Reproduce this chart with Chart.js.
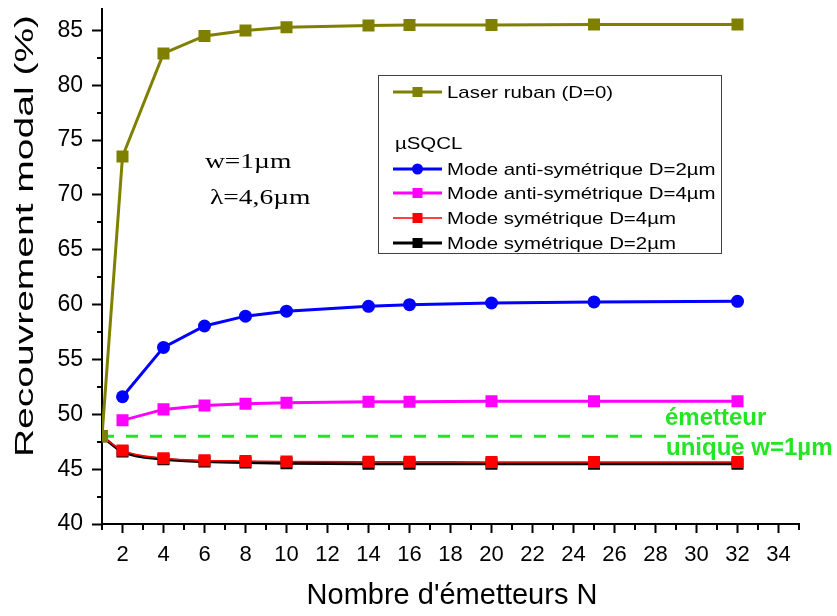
<!DOCTYPE html>
<html>
<head>
<meta charset="utf-8">
<script src="https://cdn.jsdelivr.net/npm/chart.js@4.4.0/dist/chart.umd.min.js"></script>
<style>
    html, body { margin: 0; padding: 0; background: #fff; }
    #wrap { width: 837px; height: 616px; }
</style>
</head>
<body>
<div id="wrap"><canvas id="chart" width="837" height="616"></canvas></div>
<script>
// Valeurs
const emitterCounts = [1, 2, 4, 6, 8, 10, 14, 16, 20, 25, 32];
const laserRuban = [48, 73.5, 82.9, 84.5, 85.0, 85.3, 85.45, 85.5, 85.5, 85.55, 85.55];
const antiSymD2 = [null, 51.6, 56.1, 58.05, 58.95, 59.4, 59.85, 60.0, 60.15, 60.25, 60.3];
const antiSymD4 = [null, 49.45, 50.45, 50.8, 50.97, 51.06, 51.15, 51.15, 51.2, 51.2, 51.2];
const symD4 = [48, 46.7, 46.0, 45.8, 45.75, 45.7, 45.67, 45.67, 45.66, 45.66, 45.66];
const symD2 = [48, 46.6, 45.9, 45.7, 45.6, 45.55, 45.5, 45.5, 45.5, 45.5, 45.5];
const singleEmitterX = [1, 32.2];
const singleEmitterY = [48, 48];

const xTickLabels = [2, 4, 6, 8, 10, 12, 14, 16, 18, 20, 22, 24, 26, 28, 30, 32, 34];
const yTickLabels = [40, 45, 50, 55, 60, 65, 70, 75, 80, 85];

const SANS = '"Liberation Sans", Arial, sans-serif';
const SERIF = '"Liberation Serif", "Times New Roman", serif';
const GREEN = '#22e622';

function toPoints(xs, ys) {
    return xs.map((x, i) => ({ x: x, y: ys[i] })).filter(p => p.y !== null);
}

const series = [
    { label: 'Laser ruban (D=0)', data: laserRuban, color: '#808000', width: 3, point: 'rect', radius: 8.5, tension: 0 },
    { label: 'Mode anti-symétrique D=2µm', data: antiSymD2, color: '#0000ff', width: 3, point: 'circle', radius: 6.5, tension: 0 },
    { label: 'Mode anti-symétrique D=4µm', data: antiSymD4, color: '#ff00ff', width: 3, point: 'rect', radius: 8.5, tension: 0 },
    { label: 'Mode symétrique D=4µm', data: symD4, color: '#ff0000', width: 1.5, point: 'rect', radius: 8.5, tension: 0.3 },
    { label: 'Mode symétrique D=2µm', data: symD2, color: '#000000', width: 3, point: 'rect', radius: 8.5, tension: 0.3 }
];

const datasets = series.map(s => ({
    label: s.label,
    data: toPoints(emitterCounts, s.data),
    borderColor: s.color,
    backgroundColor: s.color,
    borderWidth: s.width,
    pointStyle: s.point,
    pointRadius: s.radius,
    pointHoverRadius: s.radius,
    pointBorderWidth: 0,
    tension: s.tension,
    cubicInterpolationMode: s.tension ? 'monotone' : 'default'
}));

datasets.push({
    label: 'émetteur unique',
    data: toPoints(singleEmitterX, singleEmitterY),
    borderColor: GREEN,
    borderWidth: 3,
    borderDash: [12, 12],
    pointRadius: 0,
    fill: false
});

function drawScaledText(ctx, text, x, y, font, sx) {
    ctx.save();
    ctx.font = font;
    ctx.translate(x, y);
    ctx.scale(sx, 1);
    ctx.fillText(text, 0, 0);
    ctx.restore();
}

function drawMarker(ctx, style, x, y, size, color) {
    ctx.fillStyle = color;
    if (style === 'circle') {
        ctx.beginPath();
        ctx.arc(x, y, size / 2, 0, Math.PI * 2);
        ctx.fill();
    } else {
        ctx.fillRect(x - size / 2, y - size / 2, size, size);
    }
}

function noPadding(s) {
    s.paddingTop = 0;
    s.paddingBottom = 0;
    s.paddingLeft = 0;
    s.paddingRight = 0;
}

const decorPlugin = {
    id: 'decor',
    afterDraw(chart) {
        const ctx = chart.ctx;
        const xs = chart.scales.x;
        const ys = chart.scales.y;
        const area = chart.chartArea;

        // petites graduations
        ctx.save();
        ctx.strokeStyle = '#000';
        ctx.lineWidth = 2;
        ctx.beginPath();
        for (let v = 1; v <= 35; v += 2) {
            const px = Math.round(xs.getPixelForValue(v));
            ctx.moveTo(px, area.bottom);
            ctx.lineTo(px, area.bottom + 6);
        }
        for (let v = 42.5; v < 87; v += 5) {
            const py = Math.round(ys.getPixelForValue(v));
            ctx.moveTo(area.left, py);
            ctx.lineTo(area.left - 5, py);
        }
        ctx.stroke();
        ctx.restore();

        // titres des axes
        ctx.save();
        ctx.fillStyle = '#000';
        ctx.textAlign = 'center';
        ctx.textBaseline = 'alphabetic';
        ctx.font = '29px ' + SANS;
        ctx.fillText("Nombre d'émetteurs N", 452, 604);
        ctx.translate(33, 236);
        ctx.rotate(-Math.PI / 2);
        ctx.scale(1.5, 1);
        ctx.font = '26px ' + SANS;
        ctx.fillText('Recouvrement modal (%)', 0, 0);
        ctx.restore();

        // annotations
        ctx.save();
        ctx.fillStyle = '#000';
        ctx.textAlign = 'left';
        ctx.textBaseline = 'alphabetic';
        drawScaledText(ctx, 'w=1µm', 205, 168, '22px ' + SERIF, 1.25);
        drawScaledText(ctx, 'λ=4,6µm', 210, 204, '22px ' + SERIF, 1.25);
        ctx.fillStyle = GREEN;
        ctx.font = 'bold 24px ' + SANS;
        ctx.fillText('émetteur', 665, 425);
        ctx.fillText('unique w=1µm', 666, 455);
        ctx.restore();

        // légende
        ctx.save();
        ctx.fillStyle = '#fff';
        ctx.fillRect(378, 75, 344, 178);
        ctx.strokeStyle = '#404040';
        ctx.lineWidth = 1;
        ctx.strokeRect(378.5, 75.5, 343, 178);
        const rows = [92, 169, 193, 218, 243];
        ctx.textAlign = 'left';
        ctx.textBaseline = 'middle';
        series.forEach((s, i) => {
            const y = rows[i];
            ctx.strokeStyle = s.color;
            ctx.lineWidth = s.width;
            ctx.beginPath();
            ctx.moveTo(393, y);
            ctx.lineTo(442, y);
            ctx.stroke();
            drawMarker(ctx, s.point, 417.5, y, s.point === 'circle' ? 11 : 10, s.color);
            ctx.fillStyle = '#000';
            drawScaledText(ctx, s.label, 447, y + 1, '17px ' + SANS, 1.2);
        });
        ctx.fillStyle = '#000';
        drawScaledText(ctx, 'µSQCL', 395, 144, '17px ' + SANS, 1.2);
        ctx.restore();
    }
};

new Chart(document.getElementById('chart').getContext('2d'), {
    type: 'line',
    data: { datasets: datasets },
    options: {
        responsive: false,
        animation: false,
        devicePixelRatio: 1,
        layout: { padding: { top: 8, right: 38, left: 0, bottom: 0 } },
        plugins: {
            legend: { display: false },
            tooltip: { enabled: false }
        },
        scales: {
            x: {
                type: 'linear',
                min: 1,
                max: 35,
                afterFit: s => { s.height = 92; noPadding(s); },
                border: { display: true, color: '#000', width: 2 },
                grid: {
                    drawOnChartArea: false,
                    tickLength: 9,
                    tickWidth: 2,
                    tickColor: c => (c.tick && xTickLabels.includes(c.tick.value)) ? '#000' : 'rgba(0,0,0,0)'
                },
                ticks: {
                    stepSize: 1,
                    autoSkip: false,
                    maxRotation: 0,
                    includeBounds: false,
                    padding: 9,
                    color: '#000',
                    font: { family: SANS, size: 22 },
                    callback: v => xTickLabels.includes(v) ? String(v) : ''
                }
            },
            y: {
                type: 'linear',
                min: 40,
                max: 87,
                afterFit: s => { s.width = 102; noPadding(s); },
                border: { display: true, color: '#000', width: 2 },
                grid: {
                    drawOnChartArea: false,
                    tickLength: 10,
                    tickWidth: 2,
                    tickColor: c => (c.tick && yTickLabels.includes(c.tick.value)) ? '#000' : 'rgba(0,0,0,0)'
                },
                ticks: {
                    stepSize: 2.5,
                    autoSkip: false,
                    includeBounds: false,
                    padding: 9,
                    color: '#000',
                    font: { family: SANS, size: 23 },
                    callback: v => yTickLabels.includes(v) ? String(v) : ''
                }
            }
        }
    },
    plugins: [decorPlugin]
});
</script>
</body>
</html>
